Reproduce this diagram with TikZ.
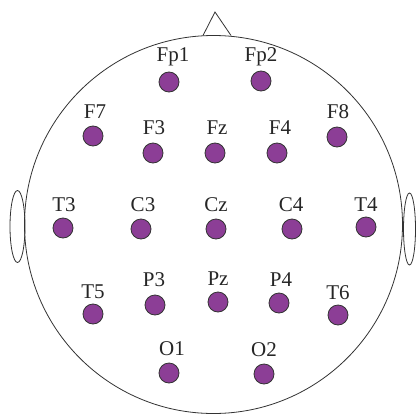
\documentclass[tikz,border=0pt]{standalone}
\usepackage{fontspec}
\setmainfont{Liberation Serif}
\begin{document}
\begin{tikzpicture}[x=1pt,y=-1pt,
  elec/.style={circle,draw=black!80,line width=0.8pt,fill={rgb,255:red,140;green,62;blue,150},minimum size=20pt,inner sep=0pt},
  lbl/.style={font=\fontsize{21}{21}\selectfont,inner sep=0pt,text=black!85},
  outline/.style={draw=black!80,line width=0.8pt}]
\useasboundingbox (0,0) rectangle (417,415);
\fill[white] (0,0) rectangle (417,415);
% head
\draw[outline] (213.5,224.5) circle (189);
% nose
\coordinate (nl) at (203,35.5);
\coordinate (nt) at (215,12);
\coordinate (nr) at (231,35.5);
\draw[outline] (nl) -- (nt) -- (nr);
% ears
\draw[outline] (17.5,226.5) ellipse (7.5 and 36);
\draw[outline] (409.5,229) ellipse (6 and 36);
% electrodes
\foreach \n/\x/\y/\lx/\ly in {
  Fp1/169/82/173/57, Fp2/261/81/261/57,
  F7/93/136/95/112, F3/153/153/154/128, Fz/215/153/217/128, F4/277/153/280/128, F8/337/137/338/112,
  T3/63/228/64/205, C3/141/229/143/205, Cz/216/229/216/205, C4/292/229/291/205, T4/366/227/366/205,
  T5/93/314/93/292, P3/155/305/154/280, Pz/218/302/218/279, P4/279/303/281/280, T6/338/315/338/293,
  O1/169/373/172/349, O2/264/374/264/350}{
  \node[elec] (e\n) at (\x,\y) {};
  \node[lbl] (l\n) at (\lx,\ly) {\n};
}
\end{tikzpicture}
\end{document}
